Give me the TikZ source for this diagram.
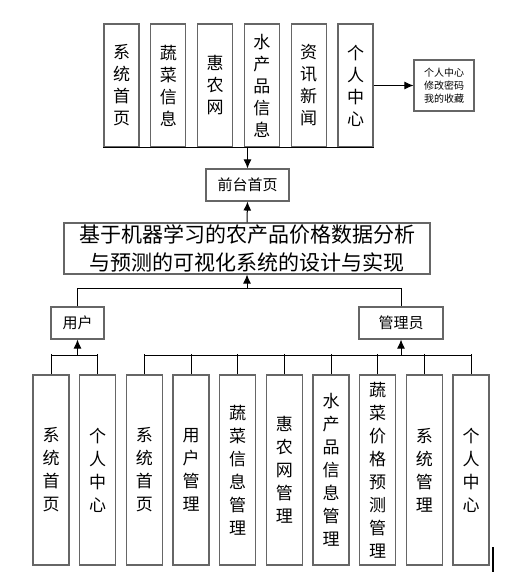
\documentclass[tikz,border=0pt]{standalone}
\usepackage{fontspec}
\newfontfamily\cjk{Noto Sans CJK SC}
\usetikzlibrary{positioning}
\usetikzlibrary{calc}
\usetikzlibrary{arrows.meta}
\tikzset{every picture/.style={line width=1pt,x=1pt,y=-1pt},
tallbox/.style={draw=black!60,line width=1.1pt,inner sep=0pt,minimum width=35pt,align=center,font=\cjk\fontsize{17}{22}\selectfont},
flatbox/.style={draw=black!60,line width=1.1pt,inner sep=0pt,align=center,font=\cjk\fontsize{15}{18}\selectfont},
arr/.style={-{Latex[length=9pt,width=8pt]}}}
\begin{document}
\begin{tikzpicture}
\useasboundingbox (0,0) rectangle (508,580);

% front end modules
\foreach \t [count=\i] in {{系\\统\\首\\页}, {蔬\\菜\\信\\息}, {惠\\农\\网}, {水\\产\\品\\信\\息}, {资\\讯\\新\\闻}, {个\\人\\中\\心}} {
\node (t\i) at (74.7+46.8*\i, 85.5) [tallbox, minimum height=123pt] {\t};
}
\node (side) at (444,85.5) [flatbox, minimum width=60pt, minimum height=51pt, font=\cjk\fontsize{10}{13}\selectfont] {个人中心\\修改密码\\我的收藏};
\node (home) at (247.5,185) [flatbox, minimum width=83pt, minimum height=32pt] {前台首页};
\node (title) at (247,248.5) [flatbox, minimum width=366pt, minimum height=51pt, font=\cjk\fontsize{21}{28}\selectfont] {基于机器学习的农产品价格数据分析\\与预测的可视化系统的设计与实现};
\node (user) at (77.5,323) [flatbox, minimum width=53pt, minimum height=32pt] {用户};
\node (admin) at (401,323) [flatbox, minimum width=84pt, minimum height=32pt] {管理员};

% back end modules
\foreach \t [count=\i] in {{系\\统\\首\\页}, {个\\人\\中\\心}, {系\\统\\首\\页}, {用\\户\\管\\理}, {蔬\\菜\\信\\息\\管\\理}, {惠\\农\\网\\管\\理}, {水\\产\\品\\信\\息\\管\\理}, {蔬\\菜\\价\\格\\预\\测\\管\\理}, {系\\统\\管\\理}, {个\\人\\中\\心}} {
\node (b\i) at (4.33+46.67*\i, 470) [tallbox, minimum width=36pt, minimum height=190pt, font=\cjk\fontsize{17}{23}\selectfont] {\t};
\draw[-] (b\i.north) -- ++(0,-20);
}

\draw[-] (t1.south west) -- (t6.south east);
\draw[arr] (home.north |- t1.south) -- (home.north);
\draw[arr] (t6.east |- side.west) -- (side.west);
\draw[arr] (title.north) -- (home.south);
\draw[-] (user.north) -- (user.north |- 0,288) -- (admin.north |- 0,288) -- (admin.north);
\draw[arr] (title.south |- 0,288) -- (title.south);
\draw[-] (b1.north |- 0,355) -- (b2.north |- 0,355);
\draw[arr] (user.south |- 0,355) -- (user.south);
\draw[-] (b3.north |- 0,355) -- (b10.north |- 0,355);
\draw[arr] (admin.south |- 0,355) -- (admin.south);

\draw[line width=2pt] (493,547) -- (493,572);
\end{tikzpicture}
\end{document}
